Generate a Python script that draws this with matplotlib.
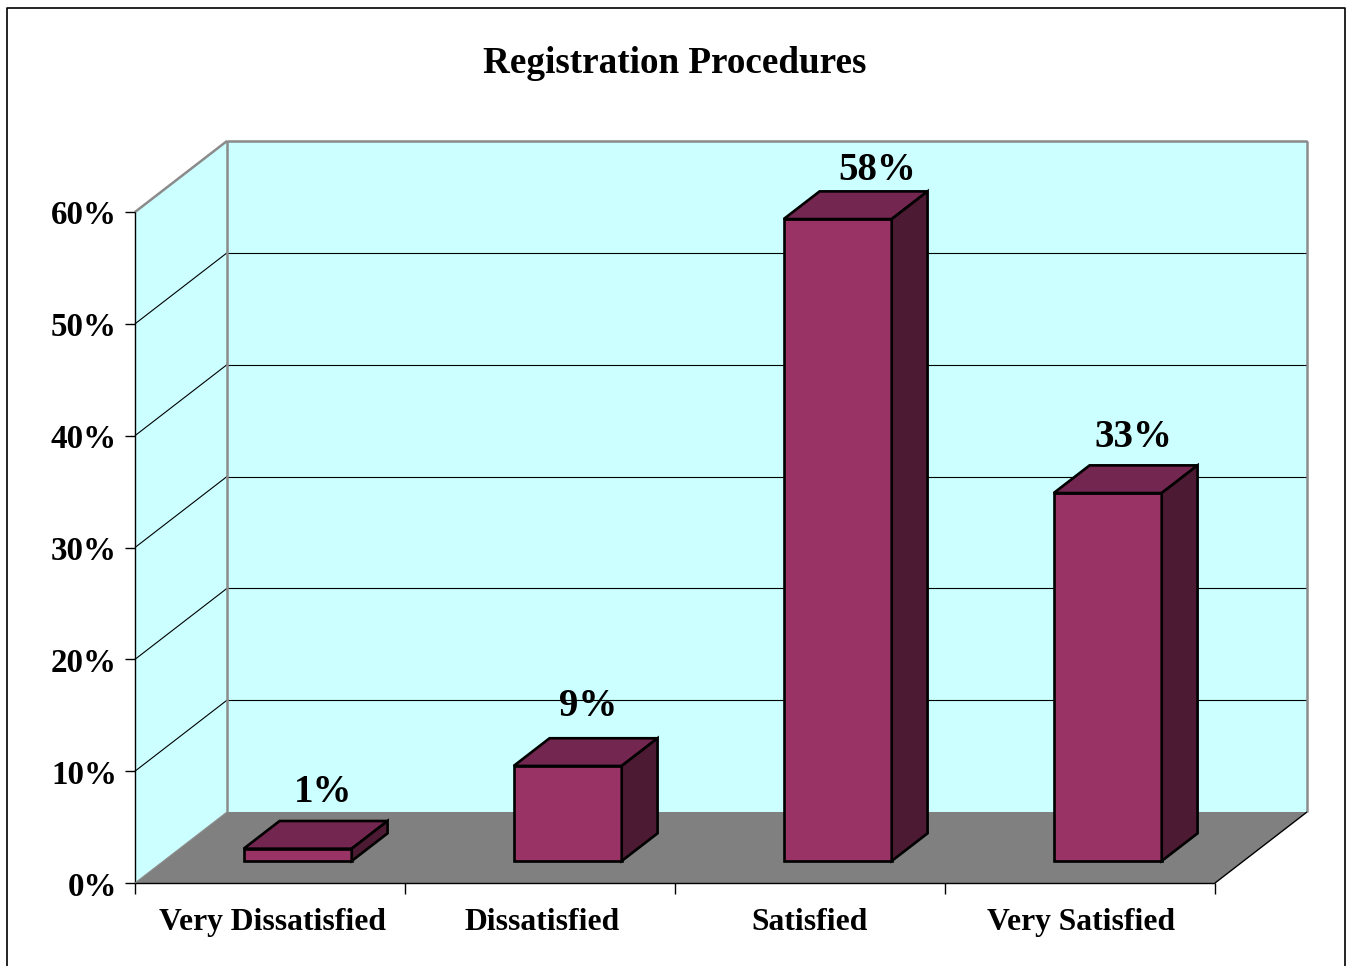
import matplotlib
matplotlib.use("Agg")
import matplotlib.pyplot as plt
from matplotlib.patches import Polygon
from matplotlib.lines import Line2D

categories = ["Very Dissatisfied", "Dissatisfied", "Satisfied", "Very Satisfied"]
bar_heights = [1.1, 8.5, 57.4, 32.9]
bar_labels = ["1%", "9%", "58%", "33%"]
y_ticks = [0, 10, 20, 30, 40, 50, 60]
y_tick_labels = ["0%", "10%", "20%", "30%", "40%", "50%", "60%"]
title = "Registration Procedures"

W, H = 1347, 966
FONT = "Liberation Serif"
WALL = "#CCFFFF"; FLOOR = "#808080"; GREY = "#8C8C8C"
FRONT = "#993366"; TOP = "#732650"; SIDE = "#4D1A33"

fig = plt.figure(figsize=(W / 100, H / 100), dpi=100, facecolor="white")
L, R, T, B = 135, 1215, 212, 883
ax = fig.add_axes([L / W, 1 - B / H, (R - L) / W, (B - T) / H])
ax.set_xlim(0, 4)
ax.set_ylim(0, 60)
ax.axis("off")

px_x = (R - L) / 4      # px per category
px_y = (B - T) / 60     # px per percent
DX, DY = 92 / px_x, 71 / px_y  # full depth in data units


def d(x, y, depth=0.0):
    """Project a data point lying at a fraction of the chart depth."""
    return (x + DX * depth, y + DY * depth)


def poly(points, **kw):
    ax.add_patch(Polygon(points, closed=True, clip_on=False, **kw))


# walls and floor
poly([d(0, 0, 1), d(4, 0, 1), d(4, 60, 1), d(0, 60, 1)], fc=WALL, ec="none", zorder=1)
poly([d(0, 0), d(0, 0, 1), d(0, 60, 1), d(0, 60)], fc=WALL, ec="none", zorder=1)
poly([d(0, 0), d(4, 0), d(4, 0, 1), d(0, 0, 1)], fc=FLOOR, ec="none", zorder=2)


def line(p, q, color="black", lw=0.8, z=3):
    ax.add_line(Line2D([p[0], q[0]], [p[1], q[1]], color=color, lw=lw,
                       clip_on=False, zorder=z, solid_capstyle="butt"))


# gridlines
for v in y_ticks[1:]:
    line(d(0, v), d(0, v, 1))
    line(d(0, v, 1), d(4, v, 1))

# wall edges in grey
line(d(0, 60), d(0, 60, 1), GREY, 1.8)
line(d(0, 60, 1), d(4, 60, 1), GREY, 1.8)
line(d(0, 0, 1), d(0, 60, 1), GREY, 1.8)
line(d(4, 0, 1), d(4, 60, 1), GREY, 1.8)

# axes
line(d(0, 0), d(0, 60), "black", 1.0, 4)
line(d(0, 0), d(4, 0), "black", 1.0, 4)
line(d(4, 0), d(4, 0, 1), "black", 1.0, 4)
line(d(0, 0), d(0, 0, 1), GREY, 0.8, 4)
for v, lab in zip(y_ticks, y_tick_labels):
    line((-10 / px_x, v), (0, v), "black", 1.0, 4)
    ax.text(-18 / px_x, v - 4 / px_y, lab, ha="right", va="center", fontsize=23.8, family=FONT,
            fontweight="bold", clip_on=False)
for i in range(5):
    line((i, 0), (i, -11 / px_y), "black", 1.0, 4)

# bars
WIDTH = 0.4
D0, D1 = 0.31, 0.70
# pixel nudges of the value labels from the bar's front top edge, as placed in the original
nudges = [(25, 56), (20, 59), (39, 49), (26, 56)]
cat_nudges = [2, 2.5, -0.5, 1]
for i, (h, lab, cat) in enumerate(zip(bar_heights, bar_labels, categories)):
    c = i + 0.497
    x0, x1 = c - WIDTH / 2, c + WIDTH / 2
    style = dict(ec="black", lw=1.9, joinstyle="miter", zorder=5)
    poly([d(x0, 0, D0), d(x1, 0, D0), d(x1, h, D0), d(x0, h, D0)], fc=FRONT, **style)
    poly([d(x0, h, D0), d(x1, h, D0), d(x1, h, D1), d(x0, h, D1)], fc=TOP, **style)
    poly([d(x1, 0, D0), d(x1, 0, D1), d(x1, h, D1), d(x1, h, D0)], fc=SIDE, **style)
    tx, ty = d(c, h, D0)
    ax.text(tx + nudges[i][0] / px_x, ty + nudges[i][1] / px_y, lab, ha="center", va="center",
            fontsize=28, family=FONT, fontweight="bold", clip_on=False, zorder=6)
    ax.text(i + 0.5 + cat_nudges[i] / px_x, -47 / px_y, cat, ha="center", va="baseline",
            fontsize=22.8, family=FONT, fontweight="bold", clip_on=False)

# chart frame and title
fig.add_artist(Line2D([7 / W, 7 / W, 1345 / W, 1345 / W], [0, 1 - 8 / H, 1 - 8 / H, 0],
                      color="black", lw=1.2, transform=fig.transFigure))
fig.text(675 / W, 1 - 73 / H, title, ha="center", va="baseline", fontsize=26.7,
         family=FONT, fontweight="bold")

fig.savefig("out.png", dpi=100)
